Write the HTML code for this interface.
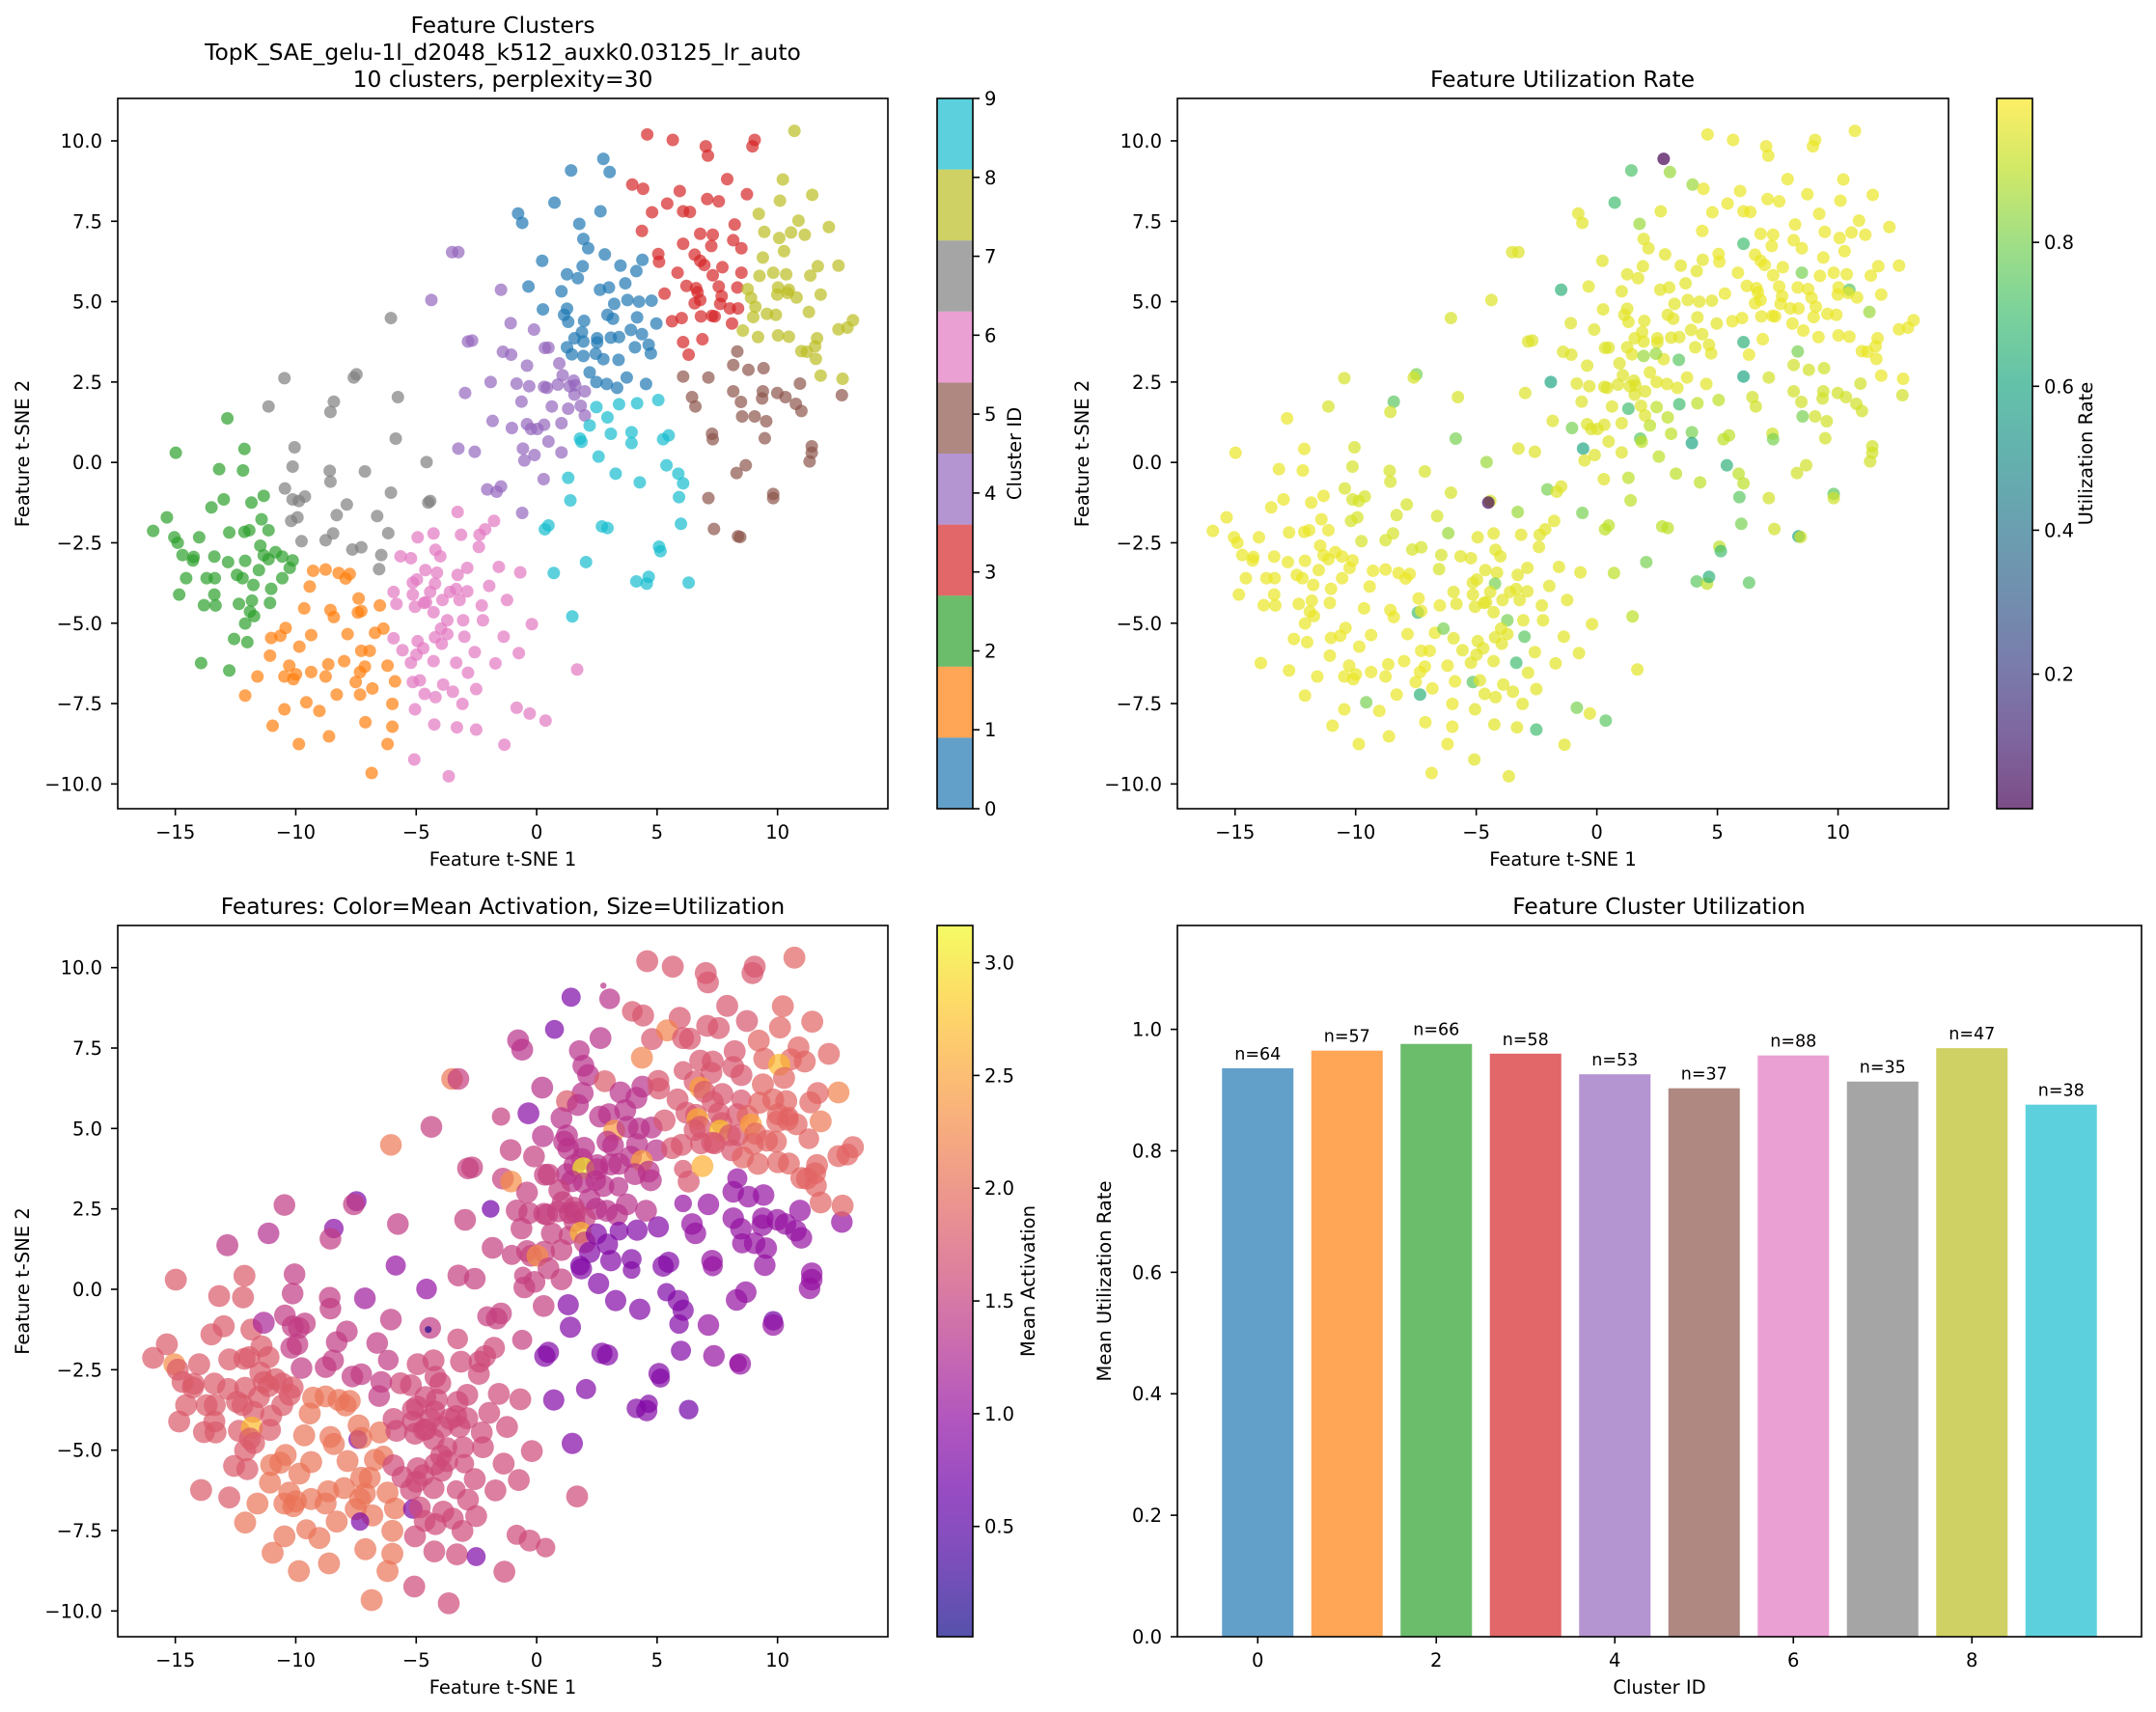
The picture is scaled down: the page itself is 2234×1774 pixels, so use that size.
<!DOCTYPE html>
<html><head><meta charset="utf-8"><style>
html,body{margin:0;padding:0;background:#fff;}
svg{display:block;font-family:"DejaVu Sans","Liberation Sans",sans-serif;}
</style></head><body>
<svg id="fig" xmlns="http://www.w3.org/2000/svg" width="2234" height="1774" viewBox="0 0 2234 1774"></svg>
<script>
// ---------- DATA ----------
const cluster0 = [[2.77,9.44],[3.03,9.03],[1.43,9.08],[0.74,8.08],[-0.77,7.74],[-0.6,7.45],[1.77,7.42],[2.65,7.81],[1.94,6.95],[2.14,6.66],[0.23,6.27],[2.83,6.47],[1.91,6.1],[-0.34,5.47],[1.26,5.85],[1.71,5.73],[2.63,5.37],[3.0,5.44],[3.22,4.93],[3.48,6.12],[4.14,5.95],[4.39,6.3],[3.68,5.57],[3.77,5.05],[4.25,5.0],[4.77,5.03],[1.03,5.32],[0.26,4.76],[1.14,4.59],[1.31,4.37],[1.97,4.4],[2.94,4.59],[3.17,4.47],[4.17,4.51],[4.97,4.32],[1.88,4.05],[1.57,3.86],[2.51,3.86],[3.08,3.88],[3.91,4.12],[4.37,3.99],[1.26,3.58],[1.94,3.76],[2.51,3.73],[3.42,3.9],[4.65,3.66],[4.08,3.58],[4.74,3.39],[1.46,3.36],[1.94,3.31],[2.77,3.21],[2.45,3.38],[3.4,3.19],[2.2,2.8],[2.48,2.5],[2.91,2.44],[3.34,2.32],[3.74,2.64],[4.54,2.44],[1.26,4.78]];
const cluster1 = [[-9.28,-3.37],[-8.76,-3.33],[-8.22,-3.44],[-7.93,-3.61],[-7.76,-3.47],[-9.42,-3.86],[-7.39,-4.23],[-7.42,-4.67],[-7.28,-4.62],[-6.51,-4.45],[-9.65,-4.54],[-8.56,-4.59],[-8.42,-4.81],[-10.42,-5.15],[-11.02,-5.46],[-10.64,-5.39],[-9.36,-5.37],[-7.85,-5.34],[-6.71,-5.3],[-6.36,-5.17],[-9.85,-5.73],[-11.07,-6.01],[-11.59,-6.66],[-10.27,-6.32],[-10.47,-6.66],[-10.1,-6.74],[-9.36,-6.52],[-8.65,-6.28],[-7.99,-6.18],[-7.13,-6.35],[-7.33,-6.52],[-7.51,-6.83],[-7.28,-5.86],[-6.93,-5.86],[-6.19,-6.32],[-5.88,-6.81],[-6.82,-7.03],[-7.33,-7.22],[-8.3,-7.22],[-9.56,-7.46],[-10.47,-7.68],[-12.1,-7.25],[-9.02,-7.73],[-10.96,-8.19],[-5.99,-7.51],[-7.11,-8.08],[-5.99,-8.22],[-8.62,-8.52],[-9.87,-8.76],[-6.19,-8.76],[-6.85,-9.66],[-8.76,-6.66],[-9.99,-6.59]];
const cluster2 = [[-14.98,0.3],[-12.13,0.42],[-12.84,1.37],[-13.18,-0.21],[-12.19,-0.25],[-15.35,-1.71],[-15.92,-2.13],[-15.04,-2.33],[-14.9,-2.5],[-14.7,-2.88],[-14.24,-2.94],[-14.01,-2.33],[-13.5,-1.4],[-12.99,-1.15],[-12.76,-2.18],[-12.13,-2.16],[-11.84,-1.25],[-11.33,-1.04],[-11.42,-1.77],[-11.93,-2.11],[-11.13,-2.11],[-11.47,-2.59],[-11.33,-2.89],[-11.13,-3.01],[-10.56,-2.93],[-10.13,-3.05],[-10.84,-2.79],[-12.1,-3.06],[-12.81,-3.1],[-13.38,-2.93],[-14.27,-3.05],[-14.55,-3.6],[-13.7,-3.6],[-13.36,-3.6],[-12.44,-3.5],[-11.53,-3.35],[-10.56,-3.6],[-11.02,-3.93],[-11.76,-3.81],[-13.38,-4.11],[-14.84,-4.11],[-13.81,-4.44],[-13.33,-4.45],[-12.36,-4.4],[-11.82,-4.3],[-11.07,-4.37],[-11.9,-4.64],[-12.1,-5.01],[-12.56,-5.49],[-12.01,-5.59],[-13.93,-6.24],[-12.76,-6.47],[-10.25,-3.28],[-12.21,-3.6],[-11.73,-4.78]];
const cluster3 = [[4.59,10.2],[5.65,10.03],[7.02,9.83],[7.11,9.54],[9.05,10.03],[8.96,9.83],[3.97,8.64],[4.42,8.51],[5.94,8.44],[7.08,8.19],[7.56,8.12],[8.73,8.34],[7.91,8.81],[4.79,7.78],[5.42,8.05],[6.08,7.81],[6.36,7.79],[4.37,7.2],[8.22,7.4],[6.79,7.11],[7.31,7.08],[8.16,6.91],[8.5,6.66],[7.25,6.73],[5.05,6.48],[6.08,6.8],[6.56,6.46],[6.79,6.27],[6.96,6.14],[7.71,6.07],[5.08,6.24],[5.85,5.9],[8.5,5.9],[7.31,5.82],[6.22,5.49],[6.62,5.42],[7.56,5.47],[8.33,5.44],[5.31,5.25],[6.68,5.29],[6.79,5.05],[6.56,4.95],[7.68,5.17],[7.62,4.93],[8.02,4.79],[8.36,4.79],[7.39,4.54],[8.11,4.32],[6.82,4.54],[6.02,4.49],[5.62,4.39],[6.31,3.35],[6.08,3.74],[6.88,3.83],[7.28,4.56]];
const cluster4 = [[-3.51,6.54],[-3.25,6.54],[-4.37,5.05],[-1.48,5.37],[-1.08,4.33],[-0.11,4.13],[-2.85,3.76],[-2.68,3.79],[-1.4,3.44],[-1.06,3.35],[0.34,3.56],[0.49,3.57],[-0.4,3.01],[0.94,3.08],[1.08,2.71],[1.54,2.54],[1.6,2.4],[-1.91,2.5],[-0.83,2.45],[-0.31,2.37],[0.31,2.35],[0.43,2.32],[0.88,2.42],[1.37,2.37],[2.0,2.21],[-2.97,2.16],[1.57,2.11],[-0.63,1.89],[0.63,1.74],[1.31,1.67],[1.83,1.76],[-1.83,1.29],[-1.03,1.07],[-0.4,1.19],[0.31,1.17],[1.03,1.22],[2.0,1.46],[-0.23,1.04],[0.03,1.04],[0.49,0.65],[1.03,0.31],[-0.57,0.43],[-0.09,0.23],[-3.25,0.43],[-2.57,0.33],[-0.51,0.06],[0.29,-0.52],[-2.05,-0.84],[-1.66,-0.91],[-1.48,-0.75],[-0.6,-1.57]];
const cluster5 = [[8.33,3.45],[8.79,2.88],[9.42,2.93],[8.16,3.03],[6.08,2.67],[7.13,2.64],[10.93,2.45],[8.16,2.21],[9.39,2.21],[9.36,1.99],[9.99,2.16],[10.33,2.03],[10.76,1.82],[12.67,2.09],[6.45,2.03],[6.59,1.74],[8.48,1.88],[8.53,1.43],[9.05,1.43],[9.53,1.28],[10.99,1.6],[7.28,0.89],[7.31,0.72],[9.47,0.75],[11.42,0.5],[11.42,0.3],[11.33,0.03],[8.68,-0.09],[8.3,-0.33],[7.13,-1.11],[9.82,-0.98],[9.82,-1.11],[7.36,-2.07],[8.36,-2.3],[8.45,-2.32]];
const cluster6 = [[-3.28,-1.54],[-4.28,-2.21],[-3.14,-2.25],[-2.37,-2.25],[-1.77,-1.82],[-2.14,-2.08],[-4.94,-2.33],[-2.4,-2.63],[-4.2,-2.72],[-5.65,-2.92],[-5.22,-2.98],[-4.0,-2.92],[-4.62,-3.35],[-4.14,-3.43],[-3.28,-3.5],[-2.88,-3.28],[-1.57,-3.25],[-0.68,-3.42],[-1.97,-3.84],[-5.14,-3.74],[-4.97,-3.64],[-4.22,-3.77],[-5.94,-4.03],[-5.14,-4.11],[-4.42,-4.03],[-3.6,-4.03],[-2.88,-4.01],[-3.2,-4.28],[-3.91,-4.28],[-4.68,-4.37],[-5.05,-4.49],[-5.82,-4.4],[-4.28,-4.66],[-2.28,-4.45],[-1.23,-4.28],[-3.71,-4.91],[-3.05,-4.91],[-2.23,-4.91],[-0.2,-5.03],[-5.94,-5.47],[-4.94,-5.56],[-4.22,-5.44],[-3.71,-5.34],[-3.0,-5.42],[-1.37,-5.42],[-5.57,-5.84],[-4.71,-5.78],[-3.94,-5.64],[-4.99,-5.98],[-4.28,-6.18],[-3.34,-6.23],[-2.57,-5.9],[-0.74,-5.93],[-5.22,-6.23],[-1.71,-6.25],[-2.85,-6.54],[1.68,-6.44],[-5.14,-6.83],[-4.85,-6.78],[-3.88,-6.91],[-4.65,-7.2],[-4.2,-7.3],[-3.48,-7.13],[-3.08,-7.51],[-2.51,-7.05],[-0.83,-7.63],[-0.29,-7.81],[0.37,-8.03],[-5.05,-7.68],[-4.25,-8.15],[-3.31,-8.24],[-2.51,-8.31],[-1.34,-8.78],[-5.08,-9.24],[-3.65,-9.76],[-3.97,-5.17],[-4.59,-4.35],[-3.34,-3.94]];
const cluster7 = [[-6.05,4.49],[-10.47,2.62],[-7.48,2.74],[-7.59,2.64],[-5.76,2.03],[-11.13,1.74],[-8.42,1.89],[-8.56,1.57],[-5.85,0.74],[-10.05,0.47],[-10.13,-0.13],[-8.59,-0.26],[-8.56,-0.6],[-7.13,-0.28],[-4.57,0.01],[-10.45,-0.81],[-10.13,-1.15],[-9.87,-1.2],[-9.62,-1.06],[-6.05,-0.94],[-4.42,-1.2],[-7.88,-1.31],[-8.3,-1.64],[-6.62,-1.67],[-9.93,-1.71],[-10.19,-1.82],[-9.76,-2.45],[-8.76,-2.42],[-8.45,-2.21],[-6.16,-2.2],[-7.65,-2.71],[-7.28,-2.64],[-6.45,-2.88],[-6.54,-3.32],[-4.5,-1.25]];
const cluster8 = [[10.7,10.31],[10.22,8.8],[11.44,8.32],[10.1,8.14],[9.22,7.73],[10.87,7.52],[12.13,7.32],[9.45,7.17],[10.56,7.15],[11.13,7.08],[10.07,6.98],[10.27,6.57],[9.39,6.37],[12.53,6.12],[11.67,6.1],[9.82,5.9],[10.36,5.85],[11.36,5.81],[9.25,5.8],[8.76,5.39],[10.02,5.44],[10.47,5.37],[11.79,5.22],[9.99,5.22],[10.42,5.27],[10.79,5.13],[8.9,5.12],[9.08,4.84],[9.56,4.62],[9.93,4.59],[8.99,4.52],[11.3,4.68],[13.13,4.42],[12.9,4.19],[12.53,4.14],[8.56,4.1],[9.19,3.9],[10.02,3.95],[10.47,3.91],[11.64,3.86],[11.56,3.61],[10.99,3.46],[11.22,3.44],[11.59,3.22],[11.79,2.7],[12.7,2.6]];
const cluster9 = [[5.05,1.94],[4.17,1.84],[3.42,1.81],[2.48,1.72],[2.94,1.4],[2.2,1.15],[1.8,0.74],[1.86,0.64],[3.94,0.94],[3.08,0.89],[3.94,0.6],[5.25,0.72],[5.48,0.84],[2.57,0.18],[5.39,-0.09],[3.28,-0.35],[4.28,-0.62],[5.88,-0.35],[6.08,-0.65],[1.31,-0.48],[1.4,-1.18],[5.91,-1.08],[5.99,-1.91],[0.34,-2.08],[0.49,-1.96],[2.71,-1.99],[2.94,-2.04],[5.08,-2.62],[5.14,-2.76],[2.05,-3.1],[0.71,-3.44],[4.14,-3.7],[4.57,-3.77],[4.65,-3.56],[6.31,-3.74],[1.48,-4.79]];
const clusters = [cluster0,cluster1,cluster2,cluster3,cluster4,cluster5,cluster6,cluster7,cluster8,cluster9];

// typical utilization and mean activation per cluster (estimated)
const utilTypical = [0.96,0.97,0.97,0.97,0.95,0.93,0.96,0.94,0.97,0.9];
const actTypical = [1.35,2.05,1.8,1.75,1.5,1.0,1.6,1.45,1.9,0.85];
// individual features: [x, y, value]
const utilNotes = [[2.74,9.44,0.013],[1.43,9.08,0.72],[2.99,8.98,0.85],[3.99,8.64,0.85],[0.74,8.07,0.7],[1.74,7.42,0.85],[-1.51,5.37,0.65],[6.01,6.79,0.7],[8.52,5.88,0.8],[10.4,5.4,0.75],[11.3,4.7,0.85],[6.01,3.74,0.65],[6.07,2.67,0.6],[8.3,3.45,0.8],[3.39,3.15,0.75],[1.9,3.27,0.85],[2.42,3.05,0.85],[-1.94,2.5,0.6],[-1.05,1.17,0.8],[-0.6,0.43,0.6],[1.31,1.64,0.7],[1.8,0.7,0.75],[3.96,0.95,0.8],[3.93,0.6,0.6],[3.39,1.8,0.7],[5.39,-0.09,0.65],[7.24,0.7,0.8],[8.53,1.43,0.8],[9.8,-1.04,0.75],[8.3,-2.3,0.6],[5.9,-1.06,0.75],[5.99,-1.91,0.8],[5.1,-2.72,0.7],[4.5,-3.57,0.65],[4.1,-3.7,0.75],[6.3,-3.74,0.75],[2.02,-3.1,0.8],[-4.5,-1.25,0.03],[-8.47,1.87,0.75],[-7.52,2.7,0.8],[-5.9,0.74,0.8],[-4.59,0.0,0.85],[-7.4,-4.67,0.7],[-7.34,-7.24,0.65],[-5.16,-6.85,0.75],[-3.34,-6.22,0.7],[-3.08,-5.46,0.75],[-3.73,-4.96,0.8],[-2.5,-8.3,0.7],[-0.86,-7.63,0.8],[0.31,-8.03,0.75],[-6.13,-5.17,0.8],[-9.58,-7.42,0.8],[-6.19,-2.2,0.85],[-3.31,-1.54,0.85],[-2.08,-0.84,0.8],[-0.77,-1.59,0.8],[-4.25,-3.77,0.8]];
const actNotes = [[2.03,3.68,3.1],[7.6,4.88,2.8],[10.07,6.98,2.7],[1.8,1.83,2.7],[6.9,3.85,2.6],[6.65,5.2,2.6],[4.4,4.07,2.5],[6.7,6.2,2.5],[9.0,5.1,2.5],[3.1,4.9,2.4],[7.3,3.3,2.4],[0.2,1.0,2.3],[-1.1,3.4,2.3],[-6.05,4.47,2.1],[-3.5,6.54,2.1],[-7.39,-4.66,0.8],[-7.39,-7.2,0.8],[-5.14,-6.83,0.8],[-2.5,-8.27,0.8],[-7.5,2.7,0.8],[-8.45,1.9,0.9],[-5.88,0.78,1.0],[-4.57,0.0,1.0],[-7.13,-0.29,1.1],[-11.3,-1.02,1.2],[-1.9,2.5,0.7],[-4.5,-1.25,0.1],[12.53,6.12,2.2],[11.79,5.22,2.1],[4.37,7.2,2.2],[5.42,8.05,2.2],[-11.13,1.74,1.3],[-12.84,1.37,1.4],[-15.04,-2.33,2.3],[-11.82,-4.3,2.7],[1.43,9.08,0.8],[0.74,8.07,0.8],[-0.34,5.47,0.9],[1.26,5.85,1.8],[2.83,6.47,1.8],[5.38,-0.09,0.8],[9.82,-1.04,0.7],[6.31,-3.74,0.7]];

// bar chart
const barCategories = [0,1,2,3,4,5,6,7,8,9];
const barValues = [0.936,0.965,0.976,0.960,0.926,0.903,0.957,0.914,0.969,0.876];
const barCounts = [64,57,66,58,53,37,88,35,47,38];
const scatterXTicks = [-15,-10,-5,0,5,10];
const scatterYTicks = [-10,-7.5,-5,-2.5,0,2.5,5,7.5,10];
const barXTicks = [0,2,4,6,8];
const barYTicks = [0,0.2,0.4,0.6,0.8,1.0];
const utilCbTicks = [0.2,0.4,0.6,0.8];
const actCbTicks = [0.5,1.0,1.5,2.0,2.5,3.0];

// ---------- HELPERS ----------
const NS = "http://www.w3.org/2000/svg";
const svg = document.getElementById('fig');
const defs = document.createElementNS(NS,'defs'); svg.appendChild(defs);
function el(tag, attrs, parent){const e=document.createElementNS(NS,tag);for(const k in attrs)e.setAttribute(k,attrs[k]);(parent||svg).appendChild(e);return e;}
function lin(d0,d1,p0,p1){return v=>p0+(v-d0)/(d1-d0)*(p1-p0);}
const tab10=['#1f77b4','#ff7f0e','#2ca02c','#d62728','#9467bd','#8c564b','#e377c2','#7f7f7f','#bcbd22','#17becf'];
const viridisStops=['#440154','#482475','#414487','#355f8d','#2a788e','#21918c','#22a884','#44bf70','#7ad151','#bddf26','#fde725'];
const plasmaStops=['#0d0887','#41049d','#6a00a8','#8f0da4','#b12a90','#cc4778','#e16462','#f2844b','#fca636','#fcce25','#f0f921'];
function hex(h){return [parseInt(h.substr(1,2),16),parseInt(h.substr(3,2),16),parseInt(h.substr(5,2),16)];}
function cmap(stops,t){t=Math.max(0,Math.min(1,t));const f=t*(stops.length-1);const i=Math.min(stops.length-2,Math.floor(f));const r=f-i;const a=hex(stops[i]),b=hex(stops[i+1]);return 'rgb('+a.map((v,k)=>Math.round(v+(b[k]-v)*r)).join(',')+')';}
function fmt(v,dec){const s=Math.abs(v).toFixed(dec);return (v<0?'\u2212':'')+s;}
function txt(x,y,s,size,anchor,parent,extra){const t=el('text',Object.assign({x:x,y:y,'font-size':size,'text-anchor':anchor||'middle',fill:'#000'},extra||{}),parent);t.textContent=s;return t;}

const feats=[];
clusters.forEach((pts,c)=>pts.forEach(p=>feats.push({x:p[0],y:p[1],c:c,u:utilTypical[c],a:actTypical[c]})));
function applyNotes(notes,key){notes.forEach(n=>{let best=null,bd=1e9;feats.forEach(f=>{const d=(f.x-n[0])**2+(f.y-n[1])**2;if(d<bd){bd=d;best=f;}});if(best&&bd<0.25)best[key]=n[2];});}
applyNotes(utilNotes,'u');applyNotes(actNotes,'a');

// ---------- AXES ----------
function scatterAxes(name,L,T,R,B){
  const g=el('g',{});
  
  
  const sx=lin(-17.39,14.58,L,R), sy=lin(-10.77,11.32,B,T);
  return {g,sx,sy,L,T,R,B};
}
function drawFrame(ax,xt,yt,xdec,ydec,xlabel,ylabel,ylabelX){
  const g=ax.g;
  const fr=el('rect',{x:ax.L,y:ax.T,width:ax.R-ax.L,height:ax.B-ax.T,fill:'none',stroke:'#000','stroke-width':1.6},g);
  
  
  const xg=el('g',{},g);
  
  
  xt.forEach(v=>{const x=ax.sx(v);el('line',{x1:x,x2:x,y1:ax.B,y2:ax.B+7,stroke:'#000','stroke-width':1.6},xg);
    const t=txt(x,ax.B+31,fmt(v,xdec),19.5,'middle',xg);
    
    });
  const yg=el('g',{},g);
  
  
  yt.forEach(v=>{const y=ax.sy(v);el('line',{x1:ax.L-7,x2:ax.L,y1:y,y2:y,stroke:'#000','stroke-width':1.6},yg);
    const t=txt(ax.L-16,y+7,fmt(v,ydec),19.5,'end',yg);
    
    });
  const xl=txt((ax.L+ax.R)/2,ax.B+59,xlabel,19.5,'middle',g);
  
  
  const cy=(ax.T+ax.B)/2;
  const yl=txt(ylabelX,cy,ylabel,19.5,'middle',g,{transform:'rotate(-90 '+ylabelX+' '+cy+')'});
  
  
}
function colorbar(name,gid,L,T,R,B,vmin,vmax,stops,ticks,dec,label,labelX){
  const g=el('g',{});
  
  
  const sc=lin(vmin,vmax,B,T);
  const grad=el('linearGradient',{id:gid,x1:0,y1:1,x2:0,y2:0},defs);
  stops.forEach((s,i)=>el('stop',{offset:i/(stops.length-1),'stop-color':s},grad));
  el('rect',{x:L,y:T,width:R-L,height:B-T,fill:'url(#'+gid+')','fill-opacity':0.7},g);
  el('rect',{x:L,y:T,width:R-L,height:B-T,fill:'none',stroke:'#000','stroke-width':1.6},g);
  ticks.forEach(v=>{const y=sc(v);el('line',{x1:R,x2:R+7,y1:y,y2:y,stroke:'#000','stroke-width':1.6},g);
    const t=txt(R+12,y+7,v.toFixed(dec),19.5,'start',g);
    
    });
  const cy=(T+B)/2;
  const l=txt(labelX,cy,label,19.5,'middle',g,{transform:'rotate(-90 '+labelX+' '+cy+')'});
  
  
}

// ---------- PANEL 1 ----------
const ax1=scatterAxes('cluster-scatter-panel',122,102,920,838);
const p1=el('g',{},ax1.g);


feats.forEach(f=>{const c=el('circle',{cx:ax1.sx(f.x),cy:ax1.sy(f.y),r:6.5,fill:tab10[f.c],'fill-opacity':0.7},p1);
  
  });
drawFrame(ax1,scatterXTicks,scatterYTicks,0,1,'Feature t-SNE 1','Feature t-SNE 2',30);
['Feature Clusters','TopK_SAE_gelu-1l_d2048_k512_auxk0.03125_lr_auto','10 clusters, perplexity=30'].forEach((s,i)=>{
  const t=txt(521,34+i*28,s,23.4,'middle');
  
  });
(function(){const g=el('g',{});
  
  
  const L=971,R=1008,T=102,B=838;const sc=lin(0,9,B,T);
  for(let i=0;i<10;i++){const r=el('rect',{x:L,y:sc((i+1)*0.9),width:R-L,height:sc(i*0.9)-sc((i+1)*0.9),fill:tab10[i],'fill-opacity':0.7},g);
    
    }
  el('rect',{x:L,y:T,width:R-L,height:B-T,fill:'none',stroke:'#000','stroke-width':1.6},g);
  for(let v=0;v<=9;v++){const y=sc(v);el('line',{x1:R,x2:R+7,y1:y,y2:y,stroke:'#000','stroke-width':1.6},g);
    const t=txt(R+12,y+7,String(v),19.5,'start',g);
    
    }
  const cy=(T+B)/2;
  const l=txt(1058,cy,'Cluster ID',19.5,'middle',g,{transform:'rotate(-90 1058 '+cy+')'});
  
  
})();

// ---------- PANEL 2 ----------
const ax2=scatterAxes('utilization-scatter-panel',1220,102,2019,838);
const UMIN=0.013,UMAX=1.0;
const p2=el('g',{},ax2.g);


feats.forEach(f=>{const c=el('circle',{cx:ax2.sx(f.x),cy:ax2.sy(f.y),r:6.5,fill:cmap(viridisStops,(f.u-UMIN)/(UMAX-UMIN)),'fill-opacity':0.7},p2);
  
  });
drawFrame(ax2,scatterXTicks,scatterYTicks,0,1,'Feature t-SNE 1','Feature t-SNE 2',1128);
const t2=txt(1619,90,'Feature Utilization Rate',23.4,'middle');


colorbar('utilization-colorbar','gradV',2069,102,2106,838,UMIN,UMAX,viridisStops,utilCbTicks,1,'Utilization Rate',2168);

// ---------- PANEL 3 ----------
const ax3=scatterAxes('activation-scatter-panel',122,959,920,1696);
ax3.sy=lin(-10.8,11.31,1696,959);
const AMIN=0.011,AMAX=3.165;
const p3=el('g',{},ax3.g);


feats.forEach(f=>{const r=Math.sqrt(125*f.u+9);const c=el('circle',{cx:ax3.sx(f.x),cy:ax3.sy(f.y),r:r,fill:cmap(plasmaStops,(f.a-AMIN)/(AMAX-AMIN)),'fill-opacity':0.7},p3);
  
  });
drawFrame(ax3,scatterXTicks,scatterYTicks,0,1,'Feature t-SNE 1','Feature t-SNE 2',30);
const t3=txt(521,947,'Features: Color=Mean Activation, Size=Utilization',23.4,'middle');


colorbar('activation-colorbar','gradP',971,959,1008,1696,AMIN,AMAX,plasmaStops,actCbTicks,1,'Mean Activation',1072);

// ---------- PANEL 4 ----------
const ax4={g:el('g',{}),L:1220,T:959,R:2219,B:1696};


ax4.sx=lin(-0.9,9.9,ax4.L,ax4.R);
ax4.sy=lin(0,1.171,ax4.B,ax4.T);
const bw=ax4.sx(0.8)-ax4.sx(0);
barCategories.forEach((c,i)=>{
  const x=ax4.sx(c)-bw/2, y=ax4.sy(barValues[i]);
  const r=el('rect',{x:x,y:y,width:bw,height:ax4.B-y,fill:tab10[i],'fill-opacity':0.7},ax4.g);
  
  
  const t=txt(ax4.sx(c),y-9,'n='+barCounts[i],17.5,'middle',ax4.g);
  
  
});
drawFrame(ax4,barXTicks,barYTicks,0,1,'Cluster ID','Mean Utilization Rate',1151);
const t4=txt(1719,947,'Feature Cluster Utilization',23.4,'middle');


</script>
</body></html>
